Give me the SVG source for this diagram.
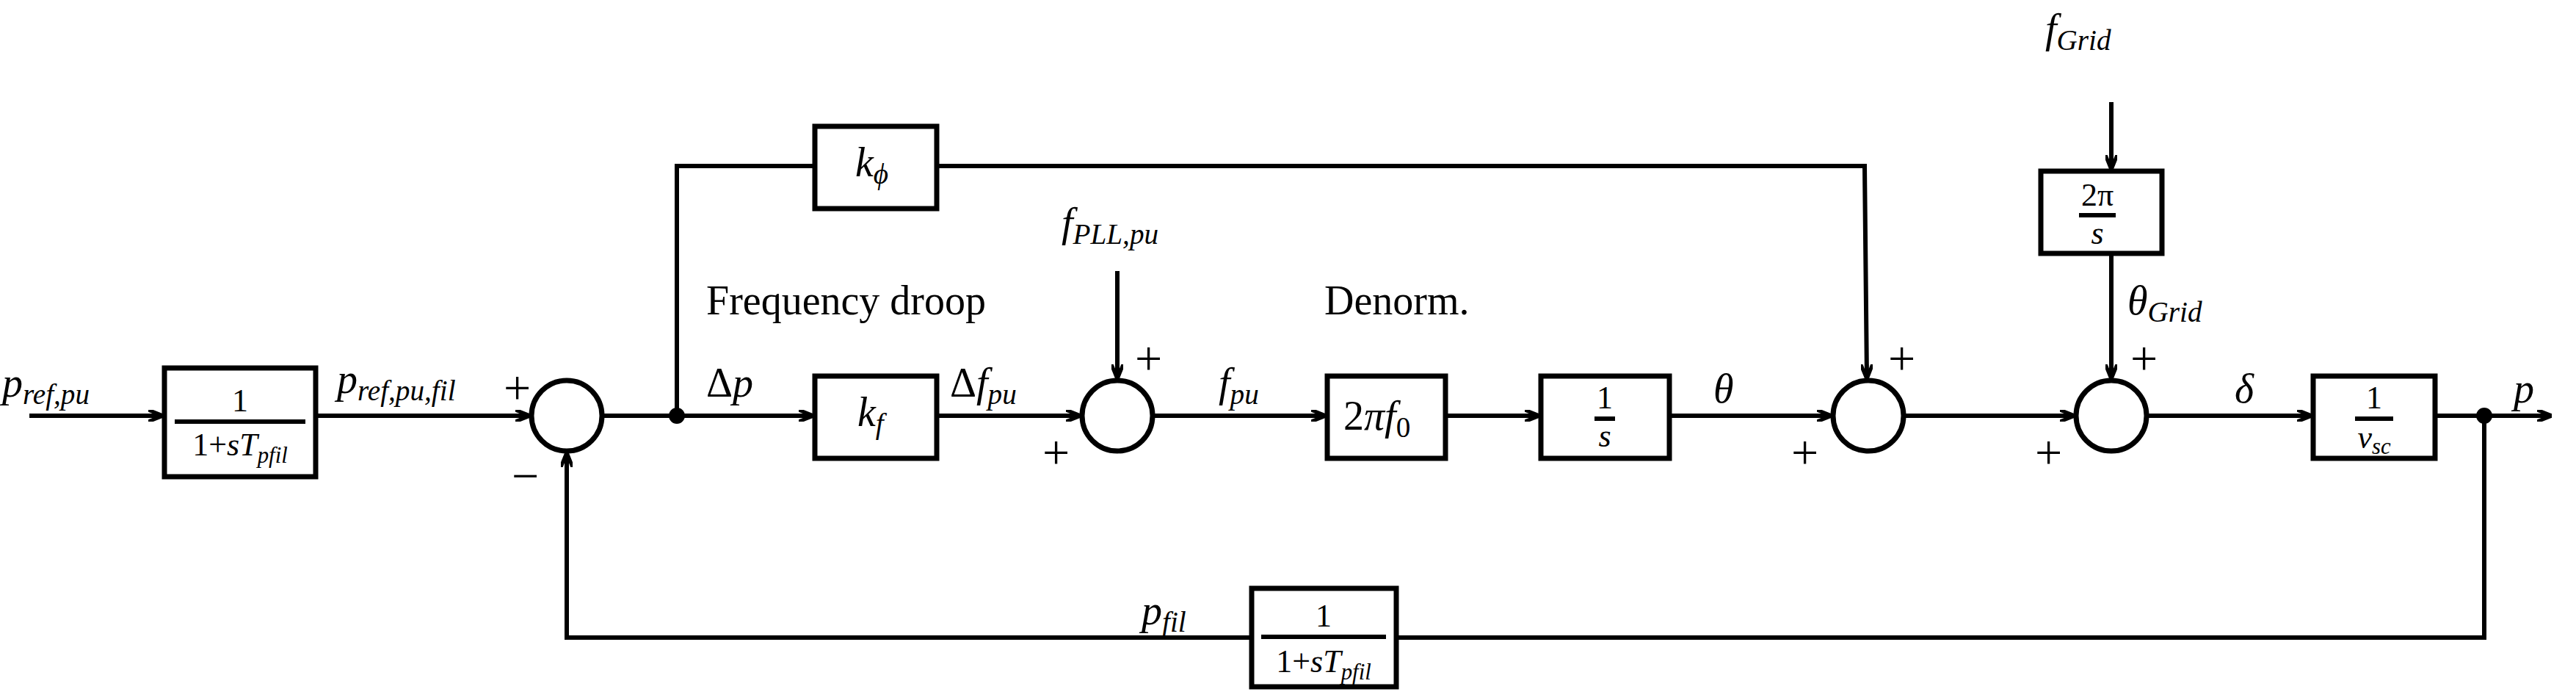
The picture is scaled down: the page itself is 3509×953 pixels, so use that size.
<svg xmlns="http://www.w3.org/2000/svg" width="3509" height="953" viewBox="0 0 3509 953">
<style>
.b{fill:#fff;stroke:#000;stroke-width:7}
.c{fill:none;stroke:#000;stroke-width:7}
.w{fill:none;stroke:#000;stroke-width:6}
.m{font-family:'Liberation Serif','DejaVu Serif',serif;font-style:italic;font-size:56px;fill:#000}
.r{font-family:'Liberation Serif','DejaVu Serif',serif;font-size:56px;fill:#000}
.p{font-family:'Liberation Serif','DejaVu Serif',serif;font-size:66px;fill:#000}
.f{font-family:'Liberation Serif','DejaVu Serif',serif;font-size:44px;fill:#000;text-anchor:middle}
.s{font-size:0.7em}
</style>
<defs>
<marker id="a" viewBox="0 0 20 16" refX="20" refY="8" markerWidth="20" markerHeight="16" markerUnits="userSpaceOnUse" orient="auto">
<path d="M0,0 L20,8 L0,16 M0,8 L20,8" fill="none" stroke="#000" stroke-width="5"/>
</marker>
</defs>
<g id="connectors">
<line class="w" x1="40" y1="566" x2="222" y2="566" marker-end="url(#a)"/>
<line class="w" x1="430" y1="566" x2="722" y2="566" marker-end="url(#a)"/>
<line class="w" x1="820" y1="566" x2="1108" y2="566" marker-end="url(#a)"/>
<polyline class="w" points="922,566 922,226 1110,226"/>
<polyline class="w" points="1276,226 2540,226 2543,516" marker-end="url(#a)"/>
<line class="w" x1="1276" y1="566" x2="1472" y2="566" marker-end="url(#a)"/>
<line class="w" x1="1522" y1="369" x2="1522" y2="516" marker-end="url(#a)"/>
<line class="w" x1="1570" y1="566" x2="1806" y2="566" marker-end="url(#a)"/>
<line class="w" x1="1969" y1="566" x2="2097" y2="566" marker-end="url(#a)"/>
<line class="w" x1="2274" y1="566" x2="2495" y2="566" marker-end="url(#a)"/>
<line class="w" x1="2593" y1="566" x2="2826" y2="566" marker-end="url(#a)"/>
<line class="w" x1="2876" y1="139" x2="2876" y2="231" marker-end="url(#a)"/>
<line class="w" x1="2876" y1="345" x2="2876" y2="516" marker-end="url(#a)"/>
<line class="w" x1="2924" y1="566" x2="3149" y2="566" marker-end="url(#a)"/>
<line class="w" x1="3317" y1="566" x2="3476" y2="566" marker-end="url(#a)"/>
<polyline class="w" points="3384,566 3384,868 1902,868"/>
<polyline class="w" points="1705,868 772,868 772,616" marker-end="url(#a)"/>
<circle cx="922" cy="566" r="11"/>
<circle cx="3384" cy="566" r="11"/>
</g>
<g id="box1"><rect class="b" x="224" y="501" width="206" height="148"/>
<text class="f" x="327" y="560">1</text><line class="w" x1="238" y1="574" x2="416" y2="574" stroke-width="3"/>
<text class="f" x="327" y="620">1+<tspan font-style="italic">sT</tspan><tspan font-style="italic" class="s" dy="10">pfil</tspan></text></g>
<g id="sum1"><circle class="c" cx="772" cy="566" r="48"/></g>
<g id="kphi"><rect class="b" x="1110" y="172" width="166" height="112"/><text class="m" x="1165" y="240">k<tspan class="s" dy="10">ϕ</tspan></text></g>
<g id="kf"><rect class="b" x="1110" y="512" width="166" height="112"/><text class="m" x="1168" y="580">k<tspan class="s" dy="10">f</tspan></text></g>
<g id="sum2"><circle class="c" cx="1522" cy="566" r="48"/></g>
<g id="twopif0"><rect class="b" x="1808" y="512" width="161" height="112"/><text class="r" x="1830" y="585">2<tspan font-style="italic">πf</tspan><tspan class="s" dy="10">0</tspan></text></g>
<g id="integ"><rect class="b" x="2099" y="512" width="175" height="112"/>
<text class="f" x="2186" y="556">1</text><line class="w" x1="2172" y1="570" x2="2200" y2="570" stroke-width="3"/><text class="f" x="2186" y="608" font-style="italic">s</text></g>
<g id="sum3"><circle class="c" cx="2545" cy="566" r="48"/></g>
<g id="twopis"><rect class="b" x="2780" y="233" width="165" height="112"/>
<text class="f" x="2857" y="280">2π</text><line class="w" x1="2832" y1="293" x2="2882" y2="293" stroke-width="3"/><text class="f" x="2857" y="332" font-style="italic">s</text></g>
<g id="sum4"><circle class="c" cx="2876" cy="566" r="48"/></g>
<g id="vsc"><rect class="b" x="3151" y="512" width="166" height="112"/>
<text class="f" x="3234" y="556">1</text><line class="w" x1="3208" y1="570" x2="3260" y2="570" stroke-width="3"/><text class="f" x="3234" y="610" font-style="italic">v<tspan class="s" dy="8">sc</tspan></text></g>
<g id="pfil"><rect class="b" x="1705" y="801" width="197" height="134"/>
<text class="f" x="1803" y="853">1</text><line class="w" x1="1718" y1="867" x2="1888" y2="867" stroke-width="3"/>
<text class="f" x="1803" y="915">1+<tspan font-style="italic">sT</tspan><tspan font-style="italic" class="s" dy="10">pfil</tspan></text></g>
<g id="labels">
<text class="m" x="3" y="540">p<tspan class="s" dy="10">ref,pu</tspan></text>
<text class="m" x="459" y="535">p<tspan class="s" dy="10">ref,pu,fil</tspan></text>
<text class="p" x="686" y="550">+</text>
<text class="p" x="697" y="670">−</text>
<text class="r" x="962" y="540">Δ<tspan font-style="italic">p</tspan></text>
<text class="r" x="962" y="428">Frequency droop</text>
<text class="r" x="1294" y="540">Δ<tspan font-style="italic">f</tspan><tspan class="s" font-style="italic" dy="10">pu</tspan></text>
<text class="m" x="1446" y="322">f<tspan class="s" dy="10">PLL,pu</tspan></text>
<text class="p" x="1546" y="510">+</text>
<text class="p" x="1420" y="638">+</text>
<text class="m" x="1660" y="540">f<tspan class="s" dy="10">pu</tspan></text>
<text class="r" x="1804" y="428">Denorm.</text>
<text class="m" x="2334" y="548">θ</text>
<text class="p" x="2572" y="510">+</text>
<text class="p" x="2440" y="638">+</text>
<text class="m" x="2786" y="58">f<tspan class="s" dy="10">Grid</tspan></text>
<text class="m" x="2898" y="428">θ<tspan class="s" dy="10">Grid</tspan></text>
<text class="p" x="2902" y="510">+</text>
<text class="p" x="2772" y="638">+</text>
<text class="m" x="3044" y="548">δ</text>
<text class="m" x="3424" y="548">p</text>
<text class="m" x="1555" y="850">p<tspan class="s" dy="10">fil</tspan></text>
</g>
</svg>
